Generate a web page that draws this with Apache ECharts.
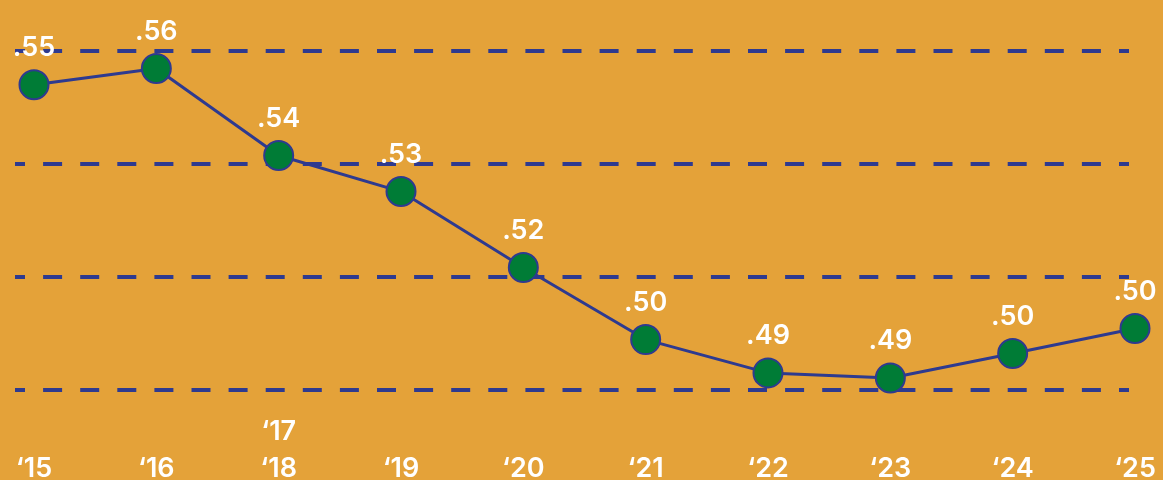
<!DOCTYPE html>
<html>
<head>
<meta charset="utf-8">
<script src="https://cdn.jsdelivr.net/npm/echarts@6/dist/echarts.min.js"></script>
<style>
html,body{margin:0;padding:0;background:#E4A239;}
#chart{width:1163px;height:480px;}
</style>
</head>
<body>
<div id="chart"></div>
<script>
// Data
var categories = ['\u201815', '\u201816', '\u201817\n\u201818', '\u201819', '\u201820', '\u201821', '\u201822', '\u201823', '\u201824', '\u201825'];
var values = [0.5546, 0.5581, 0.5393, 0.5315, 0.5151, 0.4995, 0.4923, 0.4912, 0.4965, 0.5019];
var yInterval = 0.02443;
var yMin = 20 * yInterval;
var yMax = 23 * yInterval;

var BG = '#E4A239', NAVY = '#2E3A8F', GREEN = '#007C36', WHITE = '#FFFFFF';
var FONT = 'Inter, "Open Sans", sans-serif';

var chart = echarts.init(document.getElementById('chart'));
chart.setOption({
  backgroundColor: BG,
  animation: false,
  grid: [
    { left: 34, right: 28, top: 51, bottom: 90, containLabel: false, outerBoundsMode: 'none' },
    { left: 15, right: 34, top: 51, bottom: 90, containLabel: false, outerBoundsMode: 'none' }
  ],
  xAxis: [
    {
      type: 'category', gridIndex: 0, data: categories, boundaryGap: false,
      axisLine: { show: false }, axisTick: { show: false }, splitLine: { show: false },
      axisLabel: {
        color: WHITE, fontFamily: FONT, fontWeight: 600, fontSize: 27,
        lineHeight: 37, verticalAlign: 'bottom', margin: 97, interval: 0
      }
    },
    {
      type: 'value', gridIndex: 1, min: 0, max: 1, show: false
    }
  ],
  yAxis: [
    {
      type: 'value', gridIndex: 0, min: yMin, max: yMax, interval: yInterval,
      show: false, splitLine: { show: false }
    },
    {
      type: 'value', gridIndex: 1, min: yMin, max: yMax, interval: yInterval,
      axisLine: { show: false }, axisTick: { show: false }, axisLabel: { show: false },
      splitLine: {
        show: true,
        lineStyle: { color: NAVY, width: 4, type: [19, 18.1], dashOffset: 9 }
      }
    }
  ],
  series: [
    {
      type: 'line', xAxisIndex: 0, yAxisIndex: 0, data: values,
      symbol: 'circle', symbolSize: 29,
      lineStyle: { color: NAVY, width: 3 },
      itemStyle: { color: GREEN, borderColor: NAVY, borderWidth: 2 },
      label: {
        show: true, position: 'top', distance: 8,
        color: WHITE, fontFamily: FONT, fontWeight: 600, fontSize: 27,
        formatter: function (p) { return p.value.toFixed(2).replace(/^0/, ''); }
      },
      z: 5
    }
  ]
});
</script>
</body>
</html>
